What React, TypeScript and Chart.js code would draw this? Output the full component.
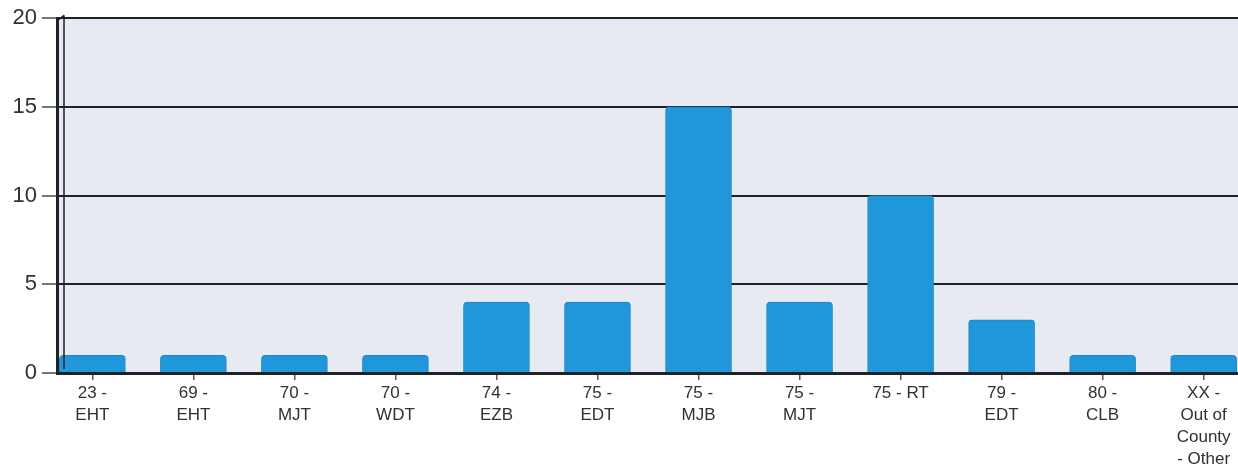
import React, { useEffect, useRef } from "react";
import { Chart, registerables } from "chart.js";

Chart.register(...registerables);

// Category labels, one entry per bar, split into the lines they are printed on
const categories: string[][] = [
  ["23 -", "EHT"],
  ["69 -", "EHT"],
  ["70 -", "MJT"],
  ["70 -", "WDT"],
  ["74 -", "EZB"],
  ["75 -", "EDT"],
  ["75 -", "MJB"],
  ["75 -", "MJT"],
  ["75 - RT"],
  ["79 -", "EDT"],
  ["80 -", "CLB"],
  ["XX -", "Out of", "County", "- Other"],
];

// Count per category
const counts: number[] = [1, 1, 1, 1, 4, 4, 15, 4, 10, 3, 1, 1];

// Value axis ticks
const yTicks: number[] = [0, 5, 10, 15, 20];

const BAR_COLOR = "#1f97da";
const PLOT_BG = "#e7ebf1";
const LINE_COLOR = "#1e2226";
const TEXT_COLOR = "#2c3237";

// Shaded plot background plus the thin inner wall line beside the value axis
const plotBackground = {
  id: "plotBackground",
  beforeDraw(chart: Chart) {
    const { ctx, chartArea } = chart;
    ctx.save();
    ctx.fillStyle = PLOT_BG;
    ctx.fillRect(chartArea.left, chartArea.top, chartArea.right - chartArea.left, chartArea.bottom - chartArea.top);
    ctx.restore();
  },
  afterDatasetsDraw(chart: Chart) {
    const { ctx, chartArea } = chart;
    ctx.save();
    ctx.strokeStyle = LINE_COLOR;
    ctx.lineWidth = 1.5;
    ctx.beginPath();
    ctx.moveTo(chartArea.left + 7, chartArea.top - 3);
    ctx.lineTo(chartArea.left + 7, chartArea.bottom - 4);
    ctx.moveTo(chartArea.left, chartArea.top + 3);
    ctx.lineTo(chartArea.left + 7, chartArea.top - 3);
    ctx.stroke();
    ctx.restore();
  },
};

export default function App() {
  const canvasRef = useRef<HTMLCanvasElement | null>(null);

  useEffect(() => {
    const canvas = canvasRef.current;
    if (!canvas) return;

    const chart = new Chart(canvas, {
      type: "bar",
      data: {
        datasets: [
          {
            data: counts.map((v, i) => ({ x: i, y: v })),
            backgroundColor: BAR_COLOR,
            borderColor: "#1a88c8",
            borderWidth: 1,
            borderRadius: 4,
            borderSkipped: "bottom",
            barThickness: 66,
          },
        ],
      },
      options: {
        responsive: false,
        animation: false,
        layout: { padding: { top: 12, right: 0, left: 0, bottom: 0 } },
        plugins: {
          legend: { display: false },
          tooltip: { enabled: false },
        },
        scales: {
          x: {
            type: "linear",
            offset: false,
            min: -0.35,
            max: 11.34,
            afterBuildTicks: (scale: any) => {
              scale.ticks = categories.map((_, i) => ({ value: i }));
            },
            afterFit: (scale: any) => {
              scale.height = 103;
            },
            ticks: {
              autoSkip: false,
              maxRotation: 0,
              padding: 2,
              color: TEXT_COLOR,
              font: { family: "'Liberation Sans', Arial, sans-serif", size: 17, lineHeight: 1.3 },
              callback: (value: any) => categories[Math.round(Number(value))] ?? "",
            },
            grid: {
              offset: false,
              drawOnChartArea: false,
              drawTicks: true,
              tickLength: 7,
              color: "#555a5f",
              lineWidth: 1.5,
            },
            border: { display: true, color: LINE_COLOR, width: 3 },
          },
          y: {
            min: 0,
            max: 20,
            afterBuildTicks: (scale: any) => {
              scale.ticks = yTicks.map((v) => ({ value: v }));
            },
            afterFit: (scale: any) => {
              scale.width = 57;
            },
            ticks: {
              padding: 5,
              color: TEXT_COLOR,
              font: { family: "'Liberation Sans', Arial, sans-serif", size: 22 },
            },
            grid: {
              color: LINE_COLOR,
              lineWidth: 2,
              tickLength: 15,
              tickColor: "#444a50",
              tickWidth: 1.5,
            },
            border: { display: true, color: LINE_COLOR, width: 3 },
          },
        },
      },
      plugins: [plotBackground],
    });

    return () => chart.destroy();
  }, []);

  return (
    <div style={{ position: "fixed", left: 0, top: 0, width: 1238, height: 476, background: "#ffffff", overflow: "hidden" }}>
      <canvas ref={canvasRef} width={1238} height={476} />
    </div>
  );
}
